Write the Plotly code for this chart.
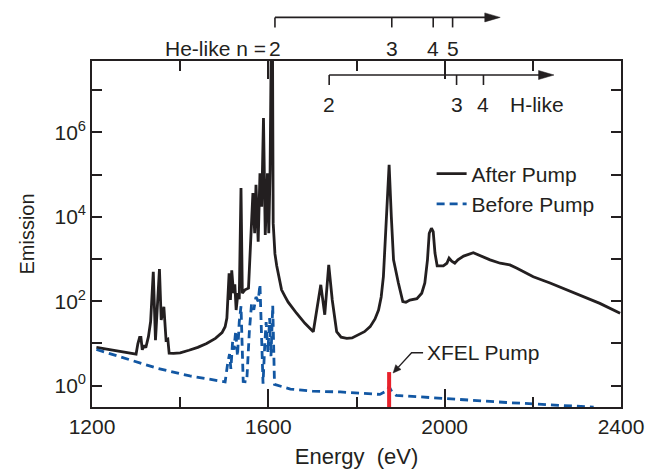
import plotly.graph_objects as go

# ---- spectrum data (energy in eV, emission in arbitrary units) ----
after_energy = [
    1210, 1300, 1304, 1308, 1311, 1314, 1318, 1322, 1328, 1333, 1339, 1344,
    1353, 1357, 1363, 1368, 1372, 1375, 1385, 1400, 1420, 1440, 1460, 1480,
    1495, 1502, 1506, 1511, 1514, 1517, 1521, 1524, 1527, 1531, 1534, 1538,
    1541, 1547, 1555, 1560, 1565, 1569, 1572, 1577, 1581, 1585, 1589, 1593,
    1598, 1601, 1604, 1606.5, 1609.5, 1611, 1615, 1619, 1622, 1626, 1630,
    1638, 1645, 1664, 1683, 1702, 1719, 1728, 1737, 1745, 1755, 1765, 1778,
    1790, 1804, 1818, 1831, 1842, 1850, 1856, 1861, 1868, 1874, 1879, 1884,
    1895, 1905, 1912, 1921, 1937, 1948, 1955, 1961, 1965, 1970, 1974, 1978,
    1983, 1997, 2005, 2010, 2016, 2023, 2030, 2043, 2065, 2084, 2103, 2126,
    2148, 2164, 2201, 2239, 2277, 2307, 2352, 2398,
]
after_emission = [
    8.1, 5.6, 9.8, 14, 14, 7.1, 9.1, 7.9, 14.5, 33, 500, 12,
    575, 36, 74, 12, 12.6, 5.9, 5.8, 6.0, 6.9, 8.1, 10, 13.2,
    18, 25, 40, 457, 107, 537, 155, 250, 62, 155, 112, 47900,
    155, 186, 204, 2820, 36300, 4070, 57500, 2570, 107000, 17400, 2.19e6, 3720,
    107000, 4070, 129000, 1e8, 1e8, 7080, 1320, 690, 500, 270, 186,
    129, 95, 52, 30, 19, 245, 48, 724, 107, 19, 14.1, 13.2,
    13.5, 15.8, 19, 25, 38, 62, 126, 380, 7080, 170000, 10000, 955,
    270, 98, 95, 107, 115, 155, 270, 955, 4070, 5370, 4470, 1380,
    690, 690, 794, 1050, 890, 794, 955, 1175, 1410, 1150, 955, 794,
    724, 603, 380, 270, 186, 141, 89, 52,
]

before_energy = [
    1210, 1271, 1347, 1422, 1490, 1502, 1508, 1512, 1515, 1519, 1522, 1526,
    1530, 1534, 1538, 1541, 1543, 1551, 1557, 1562, 1567, 1572, 1577, 1581,
    1585, 1588, 1592, 1595, 1599, 1603, 1606, 1610, 1614, 1650, 1700, 1763,
    1853, 1869, 1874, 1880, 1890, 1990, 2140, 2338,
]
before_emission = [
    7.2, 4.5, 2.6, 1.7, 1.26, 1.23, 3.5, 5.6, 2.5, 11.2, 7.1, 20,
    5, 32, 76, 4, 1.26, 1.23, 20, 89, 63, 126, 100, 251,
    16, 1.12, 10, 32, 6.3, 40, 5, 79, 1.07, 0.83, 0.74, 0.71,
    0.62, 0.76, 0.95, 0.72, 0.59, 0.50, 0.40, 0.31,
]

# XFEL pump photon energy and the height of its marker
xfel_energy = 1874
xfel_top = 2.1
axis_floor = 0.2

# level energies marked above the spectrum
he_levels = {"2": 1615, "3": 1880, "4": 1974, "5": 2018}
he_arrow_end = 2126
h_levels = {"2": 1738, "3": 2027, "4": 2088}
h_arrow_end = 2248

x_ticks = [1200, 1600, 2000, 2400]
x_minor = [1400, 1800, 2200]
y_ticks = [1, 100, 1e4, 1e6]
y_labels = ["10<sup>0</sup>", "10<sup>2</sup>", "10<sup>4</sup>", "10<sup>6</sup>"]
y_minor = [10, 1e3, 1e5, 1e7]

INK = "#231f20"
BLUE = "#1257a3"
RED = "#e8212b"
FONT = "Liberation Sans, Arial, Helvetica, sans-serif"
LW = 1.6

fig = go.Figure()
fig.add_trace(go.Scatter(
    x=after_energy, y=after_emission, mode="lines", name="After Pump",
    line=dict(color=INK, width=2.8),
))
fig.add_trace(go.Scatter(
    x=before_energy, y=before_emission, mode="lines", name="Before Pump",
    line=dict(color=BLUE, width=2.8, dash="8px,5px"),
))
fig.add_trace(go.Scatter(
    x=[xfel_energy, xfel_energy], y=[axis_floor, xfel_top], mode="lines",
    line=dict(color=RED, width=4), showlegend=False, hoverinfo="skip",
))

shapes = []
annotations = []


def level_series(levels, end, y_line, y_tick, y_text):
    """Horizontal arrow with a tick and number for each level energy."""
    start = min(levels.values())
    for lv, e in levels.items():
        shapes.append(dict(type="line", xref="x", yref="paper", x0=e, x1=e,
                           y0=y_line, y1=y_tick, line=dict(color=INK, width=LW)))
        annotations.append(dict(x=e, y=y_text, xref="x", yref="paper", text=lv,
                                showarrow=False, xanchor="center", yanchor="middle"))
    shapes.append(dict(type="line", xref="x", yref="paper", x0=start, x1=end - 20,
                       y0=y_line, y1=y_line, line=dict(color=INK, width=LW)))
    shapes.append(dict(type="path", xref="x", yref="paper",
                       path=f"M {end - 35},{y_line + 0.013} L {end},{y_line} "
                            f"L {end - 35},{y_line - 0.013} Z",
                       fillcolor=INK, line=dict(color=INK, width=0.5)))


# He-like series (above the frame) and H-like series (inside it)
level_series(he_levels, he_arrow_end, 1.126, 1.097, 1.037)
annotations.append(dict(x=he_levels["2"] - 15, y=1.037, xref="x", yref="paper",
                        text="He-like n =", showarrow=False, xanchor="right",
                        yanchor="middle"))
level_series(h_levels, h_arrow_end, 0.9595, 0.9306, 0.873)
annotations.append(dict(x=2143, y=0.873, xref="x", yref="paper", text="H-like",
                        showarrow=False, xanchor="left", yanchor="middle"))

# XFEL pump label with a bent leader ending in an arrowhead
xfel_label_y = 0.157
shapes.append(dict(type="path", xref="x", yref="paper",
                   path=f"M 1951,{xfel_label_y} L 1925,{xfel_label_y} L 1895,0.1153",
                   line=dict(color=INK, width=1.4)))
shapes.append(dict(type="path", xref="x", yref="paper",
                   path="M 1883,0.0983 L 1901,0.1084 L 1889,0.1223 Z",
                   fillcolor=INK, line=dict(color=INK, width=0.5)))
annotations.append(dict(x=1955, y=xfel_label_y, xref="x", yref="paper",
                        text="XFEL Pump", showarrow=False, xanchor="left",
                        yanchor="middle"))

axis_common = dict(
    showline=True, linecolor=INK, linewidth=LW, mirror="allticks",
    ticks="inside", tickcolor=INK, tickwidth=LW, showgrid=False, zeroline=False,
    tickfont=dict(size=21, color=INK), automargin=False,
)

fig.update_layout(
    width=652, height=472,
    margin=dict(l=92, r=31, t=61, b=65),
    paper_bgcolor="white", plot_bgcolor="white",
    font=dict(family=FONT, size=21, color=INK),
    shapes=shapes, annotations=annotations,
    legend=dict(x=0.642, y=0.733, xanchor="left", yanchor="top",
                bgcolor="rgba(0,0,0,0)", font=dict(size=21), tracegroupgap=0),
    xaxis=dict(range=[1200, 2400], tickvals=x_ticks, ticklen=18,
               minor=dict(tickvals=x_minor, ticklen=10, ticks="inside",
                          tickcolor=INK, tickwidth=LW),
               title=dict(text="Energy  (eV)", standoff=12, font=dict(size=22)),
               **axis_common),
    yaxis=dict(type="log", range=[-0.505, 7.69], tickvals=y_ticks,
               ticktext=y_labels, ticklen=10,
               minor=dict(tickvals=y_minor, ticklen=10, ticks="inside",
                          tickcolor=INK, tickwidth=LW),
               title=dict(text="Emission", standoff=14, font=dict(size=20)),
               **axis_common),
)

fig.write_html("out.html")
